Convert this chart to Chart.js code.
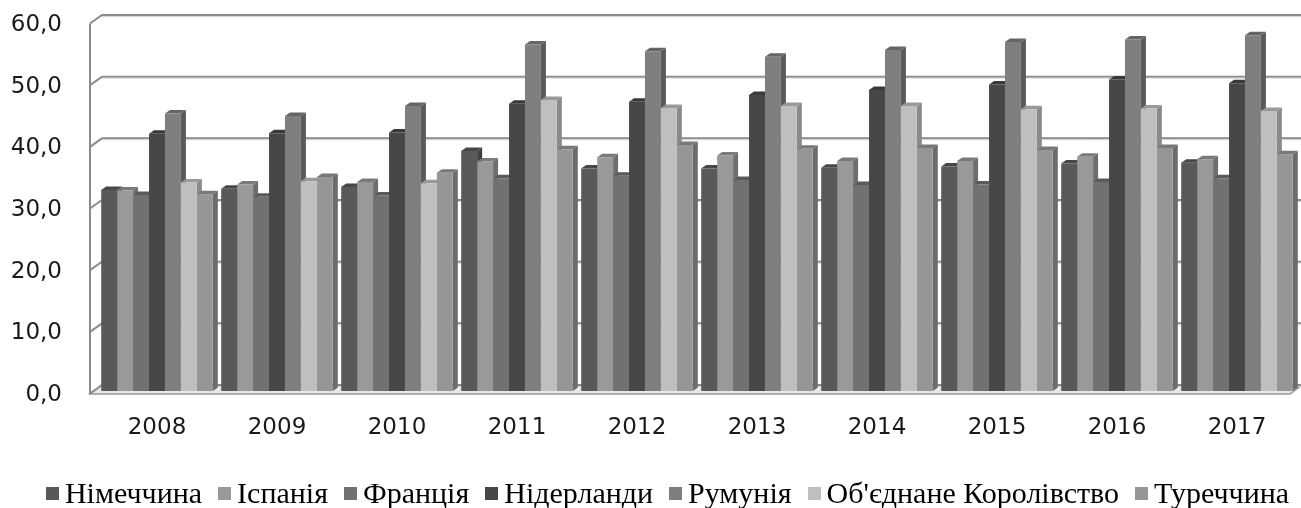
<!DOCTYPE html>
<html lang="uk">
<head>
<meta charset="utf-8">
<script src="https://cdn.jsdelivr.net/npm/chart.js@4.4.1/dist/chart.umd.min.js"></script>
<style>
  html, body { margin: 0; padding: 0; background: #fff; }
  #wrap { position: relative; width: 1301px; height: 508px; }
  #legend {
    position: absolute; left: 17px; top: 476px; width: 1301px;
    display: flex; justify-content: center;
    font-family: "Liberation Serif", "Times New Roman", serif;
    font-size: 30px; line-height: 34px; color: #000; white-space: nowrap;
  }
  #legend .item { display: flex; align-items: center; margin: 0 8px; }
  #legend .box { display: inline-block; width: 13px; height: 13px; margin-right: 6px; }
</style>
</head>
<body>
<div id="wrap">
  <canvas id="myChart" width="1301" height="508"></canvas>
  <div id="legend"></div>
</div>
<script>
// data
const years = ['2008', '2009', '2010', '2011', '2012', '2013', '2014', '2015', '2016', '2017'];
const countries = ['Німеччина', 'Іспанія', 'Франція', 'Нідерланди', 'Румунія', "Об'єднане Королівство", 'Туреччина'];

const germany     = [32.6, 32.8, 33.1, 38.9, 36.1, 36.1, 36.2, 36.4, 36.9, 37.0];
const spain       = [32.5, 33.5, 33.9, 37.2, 37.9, 38.2, 37.3, 37.3, 38.0, 37.6];
const france      = [31.8, 31.5, 31.7, 34.5, 34.9, 34.2, 33.4, 33.5, 33.9, 34.5];
const netherlands = [41.7, 41.8, 41.9, 46.6, 46.9, 48.0, 48.8, 49.7, 50.5, 49.9];
const romania     = [45.0, 44.6, 46.2, 56.2, 55.1, 54.2, 55.3, 56.6, 57.0, 57.7];
const uk          = [33.8, 34.0, 33.7, 47.2, 45.9, 46.2, 46.2, 45.7, 45.8, 45.4];
const turkey      = [31.9, 34.7, 35.4, 39.2, 39.9, 39.3, 39.4, 39.1, 39.4, 38.4];

const yTicks = [0, 10, 20, 30, 40, 50, 60];

const seriesValues = [germany, spain, france, netherlands, romania, uk, turkey];
const colors = ['#595959', '#999999', '#717171', '#474747', '#7f7f7f', '#bfbfbf', '#969696'];

function shade(hex, f) {
    const n = parseInt(hex.slice(1), 16);
    const r = Math.round(((n >> 16) & 255) * f);
    const g = Math.round(((n >> 8) & 255) * f);
    const b = Math.round((n & 255) * f);
    return 'rgb(' + r + ',' + g + ',' + b + ')';
}

// back wall, left wall, floor
const walls = {
    id: 'walls',
    beforeDatasetsDraw(chart) {
        const {ctx, chartArea, scales: {y}} = chart;
        const backX = chartArea.left + 5;
        const frontX = chartArea.left - 7;
        const back = v => y.getPixelForValue(v) - 6;
        ctx.save();
        // floor
        const b0 = back(0);
        ctx.beginPath();
        ctx.moveTo(frontX, b0 + 9);
        ctx.lineTo(chartArea.right - 7, b0 + 9);
        ctx.lineTo(chartArea.right + 5, b0);
        ctx.lineTo(backX, b0);
        ctx.closePath();
        ctx.fillStyle = '#e8e8e8';
        ctx.fill();
        ctx.lineWidth = 1.5;
        ctx.strokeStyle = '#999999';
        ctx.stroke();
        // grid lines
        yTicks.forEach(v => {
            const yb = back(v);
            ctx.beginPath();
            ctx.moveTo(frontX, yb + 8.5);
            ctx.lineTo(backX, yb);
            ctx.lineTo(chart.width, yb);
            ctx.lineWidth = 2;
            ctx.strokeStyle = '#8b8b8b';
            ctx.stroke();
            ctx.beginPath();
            ctx.moveTo(backX, yb + 1.5);
            ctx.lineTo(chart.width, yb + 1.5);
            ctx.lineWidth = 1;
            ctx.strokeStyle = '#d4d4d4';
            ctx.stroke();
        });
        // left wall front edge
        ctx.beginPath();
        ctx.moveTo(frontX, back(60) + 8.5);
        ctx.lineTo(frontX, b0 + 9);
        ctx.lineWidth = 2;
        ctx.strokeStyle = '#8b8b8b';
        ctx.stroke();

        // top and side faces of the columns
        const dx = 5, dy = 3.5;
        chart.data.datasets.forEach((ds, i) => {
            const meta = chart.getDatasetMeta(i);
            meta.data.forEach(el => {
                const p = el.getProps(['x', 'y', 'base', 'width'], true);
                const L = p.x - p.width / 2, R = p.x + p.width / 2, T = p.y, B = p.base;
                ctx.beginPath();
                ctx.moveTo(R, T);
                ctx.lineTo(R + dx, T - dy);
                ctx.lineTo(R + dx, B - dy);
                ctx.lineTo(R, B);
                ctx.closePath();
                ctx.fillStyle = shade(ds.backgroundColor, 0.72);
                ctx.fill();
                ctx.beginPath();
                ctx.moveTo(L, T);
                ctx.lineTo(R, T);
                ctx.lineTo(R + dx, T - dy);
                ctx.lineTo(L + dx, T - dy);
                ctx.closePath();
                ctx.fillStyle = shade(ds.backgroundColor, 0.8);
                ctx.fill();
            });
        });
        ctx.restore();
    }
};

const htmlLegend = {
    id: 'htmlLegend',
    afterUpdate(chart) {
        const box = document.getElementById('legend');
        box.innerHTML = '';
        chart.data.datasets.forEach(ds => {
            const item = document.createElement('span');
            item.className = 'item';
            const sw = document.createElement('span');
            sw.className = 'box';
            sw.style.background = ds.backgroundColor;
            item.appendChild(sw);
            item.appendChild(document.createTextNode(ds.label));
            box.appendChild(item);
        });
    }
};

const ctx = document.getElementById('myChart');

new Chart(ctx, {
    type: 'bar',
    data: {
        labels: years,
        datasets: countries.map((name, i) => ({
            label: name,
            data: seriesValues[i],
            backgroundColor: colors[i],
            borderWidth: 0,
            barPercentage: 1,
            categoryPercentage: 0.93
        }))
    },
    options: {
        responsive: false,
        animation: false,
        devicePixelRatio: 1,
        layout: {
            padding: { left: 10, right: 4, top: 21, bottom: 0 }
        },
        plugins: {
            legend: { display: false },
            tooltip: { enabled: false }
        },
        scales: {
            x: {
                grid: { display: false, drawTicks: false },
                border: { display: false },
                ticks: {
                    color: '#1a1a1a',
                    font: { family: 'DejaVu Sans', size: 23 },
                    padding: 23,
                    maxRotation: 0,
                    autoSkip: false
                },
                afterFit(scale) { scale.height = 117; }
            },
            y: {
                min: 0,
                max: 60,
                grid: { display: false, drawTicks: true, tickLength: 35 },
                border: { display: false },
                ticks: {
                    stepSize: 10,
                    color: '#1a1a1a',
                    font: { family: 'DejaVu Sans', size: 23 },
                    padding: 0,
                    labelOffset: 4,
                    callback: v => v.toFixed(1).replace('.', ',')
                },
                afterFit(scale) { scale.width = 87; }
            }
        }
    },
    plugins: [walls, htmlLegend]
});
</script>
</body>
</html>
